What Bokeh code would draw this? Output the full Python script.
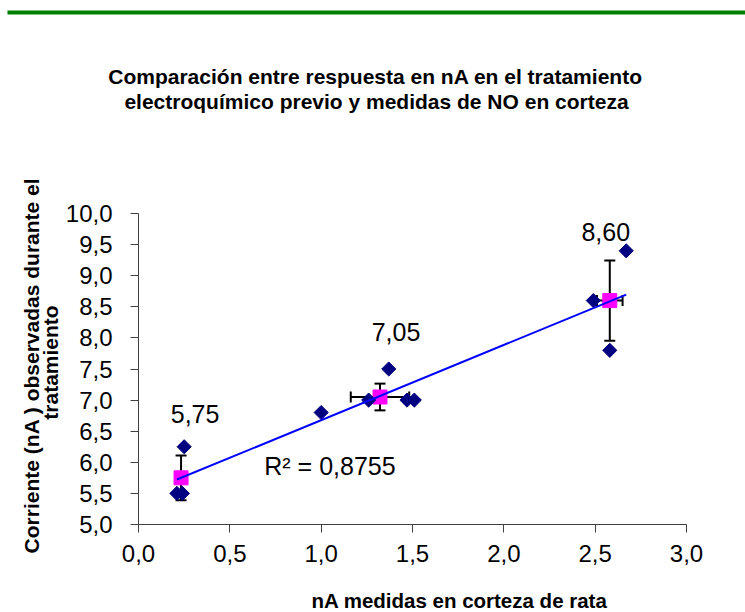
import numpy as np
from bokeh.plotting import figure
from bokeh.models import (ColumnDataSource, Whisker, TeeHead, Label, Range1d,
                          FixedTicker, CustomJSTickFormatter)
from bokeh.layouts import column, row
from bokeh.embed import file_html
from bokeh.resources import INLINE
from bokeh.core.properties import value

# ---------------- data ----------------
title_lines = ["Comparación entre respuesta en nA en el tratamiento",
               "electroquímico previo y medidas de NO en corteza"]
x_title = "nA medidas en corteza de rata"
y_title_lines = ["Corriente (nA ) observadas durante el", "tratamiento"]

# individual measurements (navy diamonds)
meas_x = [0.25, 0.21, 0.24, 1.00, 1.26, 1.37, 1.47, 1.51, 2.67, 2.49, 2.58]
meas_y = [6.25, 5.50, 5.50, 6.80, 7.00, 7.50, 7.00, 7.00, 9.40, 8.60, 7.80]

# group means (magenta squares) with error bars
mean_x = [0.233, 1.322, 2.58]
mean_y = [5.75, 7.05, 8.60]
err_x = [0.0, 0.16, 0.07]
err_y = [0.36, 0.215, 0.645]
mean_labels = ["5,75", "7,05", "8,60"]
r2_text = "R² = 0,8755"

x_ticks = [0.0, 0.5, 1.0, 1.5, 2.0, 2.5, 3.0]
y_ticks = [5.0, 5.5, 6.0, 6.5, 7.0, 7.5, 8.0, 8.5, 9.0, 9.5, 10.0]

# ---------------- layout constants (page pixels) ----------------
W, H = 745, 612
TOP_H = 120          # height of the title band
BOT_Y = 584          # page y where the bottom band starts
LEFT_W = 62          # width of the y-title band
FL, FR, FT, FB = 137, 686, 213, 524   # frame edges
X0, X1, Y0, Y1 = 0.0, 3.0, 5.0, 10.0
FONT = "Liberation Sans"
TITLE_SIZE = "21px"
XTITLE_SIZE = "20.5px"
TICK_SIZE = "24px"
LABEL_SIZE = "25px"

def px2x(px):
    return X0 + (px - FL) * (X1 - X0) / (FR - FL)

def py2y(py):
    return Y1 - (py - FT) * (Y1 - Y0) / (FB - FT)

def band(width, height, xr, yr):
    f = figure(width=width, height=height, x_axis_type=None, y_axis_type=None,
               toolbar_location=None, output_backend="svg",
               min_border_left=0, min_border_right=0, min_border_top=0,
               min_border_bottom=0, background_fill_color="white",
               border_fill_color="white", outline_line_color=None,
               x_range=Range1d(*xr), y_range=Range1d(*yr))
    f.grid.visible = False
    f.frame_align = False
    return f

def title_style(size):
    return dict(text_font=value(FONT), text_font_style="bold",
                text_font_size=size, text_color="black",
                text_align="center", text_baseline="middle")

# ---------------- top band: green rule + title ----------------
top = band(W, TOP_H, (0, W), (TOP_H, 0))
top.quad(left=[7], right=[W], top=[10], bottom=[14],
         fill_color="#008000", line_color=None)
top.text(x=[375, 376], y=[76, 101], text=title_lines, **title_style(TITLE_SIZE))

# ---------------- left band: y title ----------------
left = band(LEFT_W, BOT_Y - TOP_H, (0, LEFT_W), (BOT_Y, TOP_H))
left.text(x=[31, 50], y=[365, 362], text=y_title_lines, angle=np.pi / 2,
          **title_style(TITLE_SIZE))

# ---------------- bottom band: x title ----------------
bottom = band(W, H - BOT_Y, (0, W), (H, BOT_Y))
bottom.text(x=[459], y=[600], text=[x_title], **title_style(XTITLE_SIZE))

# ---------------- main figure ----------------
p = figure(width=W - LEFT_W, height=BOT_Y - TOP_H, toolbar_location=None,
           output_backend="svg",
           x_range=Range1d(X0, X1), y_range=Range1d(Y0, Y1),
           min_border_left=FL - LEFT_W, min_border_right=W - FR,
           min_border_top=FT - TOP_H, min_border_bottom=BOT_Y - FB,
           background_fill_color="white", border_fill_color="white",
           outline_line_color=None)
p.grid.visible = False
p.frame_align = False

fmt = CustomJSTickFormatter(code="return tick.toFixed(1).replace('.', ',');")
for ax, ticks in ((p.xaxis, x_ticks), (p.yaxis, y_ticks)):
    ax.ticker = FixedTicker(ticks=ticks)
    ax.formatter = fmt
    ax.axis_line_color = "#404040"
    ax.axis_line_width = 1
    ax.major_tick_line_color = "#404040"
    ax.major_tick_out = 8
    ax.major_tick_in = 0
    ax.minor_tick_out = 0
    ax.minor_tick_in = 0
    ax.major_label_text_font = FONT
    ax.major_label_text_font_size = TICK_SIZE
    ax.major_label_text_color = "black"
p.yaxis.major_label_standoff = 18
p.xaxis.major_label_standoff = 12

# error bars (under everything)
src_m = ColumnDataSource(dict(
    x=mean_x, y=mean_y,
    xl=[m - e for m, e in zip(mean_x, err_x)], xu=[m + e for m, e in zip(mean_x, err_x)],
    yl=[m - e for m, e in zip(mean_y, err_y)], yu=[m + e for m, e in zip(mean_y, err_y)],
))
for base, lo, hi, dim in (("x", "yl", "yu", "height"), ("y", "xl", "xu", "width")):
    p.add_layout(Whisker(
        source=src_m, base=base, lower=lo, upper=hi, dimension=dim,
        line_color="black", line_width=2, level="underlay",
        upper_head=TeeHead(size=11, line_width=2, line_color="black"),
        lower_head=TeeHead(size=11, line_width=2, line_color="black")))

# mean squares
p.scatter("x", "y", source=src_m, marker="square", size=14,
          fill_color="#FF00FF", line_color="#FF00FF")

# measurements
p.scatter(meas_x, meas_y, marker="square", angle=np.pi / 4, size=10,
          fill_color="#000080", line_color="#000080")

# linear trend line over all measurements
coef = np.polyfit(meas_x, meas_y, 1)
tx = np.array([min(meas_x), max(meas_x)])
p.line(tx, np.polyval(coef, tx), line_color="#0000FF", line_width=2)

# mean value labels
src_l = ColumnDataSource(dict(x=mean_x, y=mean_y, text=mean_labels,
                              dx=[14, 16, -4], dy=[-64, -65, -69]))
p.text(x="x", y="y", text="text", x_offset="dx", y_offset="dy", source=src_l,
       text_font=value(FONT), text_font_size=LABEL_SIZE, text_color="black",
       text_align="center", text_baseline="middle")

# R^2 label
p.add_layout(Label(x=px2x(263), y=py2y(465), text=r2_text, text_font=FONT,
                   text_font_size=LABEL_SIZE, text_color="black",
                   text_align="left", text_baseline="middle"))

layout = column(top, row(left, p, spacing=0), bottom, spacing=0)
open("out.html", "w").write(file_html(layout, INLINE))
